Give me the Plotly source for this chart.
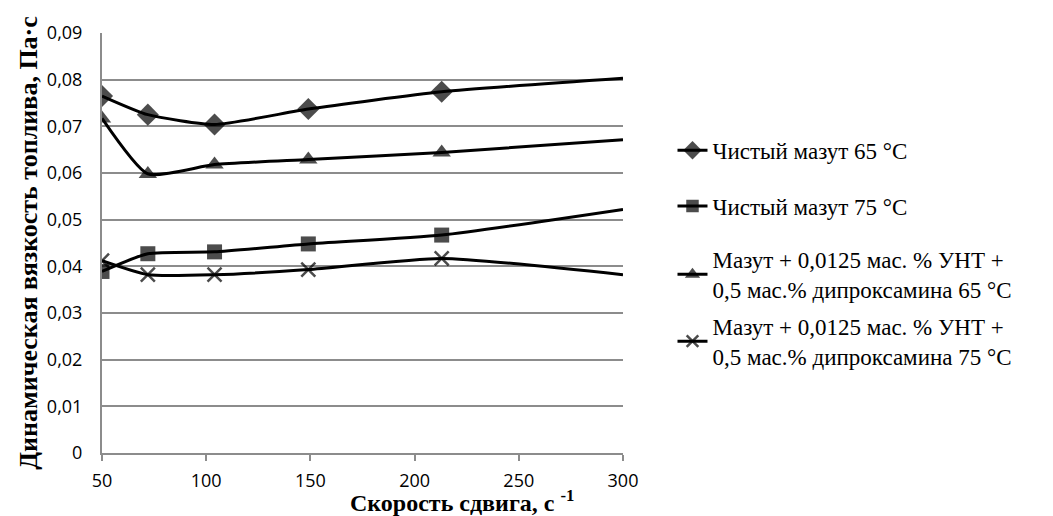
import plotly.graph_objects as go

shear_rate = [50, 72, 104, 149, 213, 300]
visc_65 = [0.0765, 0.0725, 0.0704, 0.0737, 0.0774, 0.0803]
visc_75 = [0.0389, 0.0427, 0.0431, 0.0448, 0.0467, 0.0522]
visc_cnt_65 = [0.0717, 0.0598, 0.0618, 0.0629, 0.0644, 0.0671]
visc_cnt_75 = [0.0412, 0.0382, 0.0382, 0.0393, 0.0417, 0.0382]

names = [
    "Чистый мазут 65 °C",
    "Чистый мазут 75 °C",
    "Мазут + 0,0125 мас. % УНТ +<br>0,5 мас.% дипроксамина 65 °C",
    "Мазут + 0,0125 мас. % УНТ +<br>0,5 мас.% дипроксамина 75 °C",
]
series = [visc_65, visc_75, visc_cnt_65, visc_cnt_75]
symbols = ["diamond", "square", "triangle-up", "x-thin"]
sizes = [17, 15, 16, 14]
legend_ids = ["legend", "legend", "legend2", "legend2"]

y_ticks = [0, 0.01, 0.02, 0.03, 0.04, 0.05, 0.06, 0.07, 0.08, 0.09]
y_ticktext = ["0", "0,01", "0,02", "0,03", "0,04", "0,05", "0,06", "0,07", "0,08", "0,09"]
x_ticks = [50, 100, 150, 200, 250, 300]

x_title = "<b>Скорость сдвига, с <sup>-1</sup></b>"
y_title = "<b>Динамическая вязкость топлива, Па·с</b>"

SERIF = "Liberation Serif"
SANS = "Open Sans"

fig = go.Figure()
for i, (nm, ys, sym, sz, lg) in enumerate(zip(names, series, symbols, sizes, legend_ids)):
    msizes = [sz] * (len(shear_rate) - 1) + [0]
    fig.add_trace(go.Scatter(
        x=shear_rate, y=ys, name=nm, mode="lines+markers",
        line=dict(color="black", width=3, shape="spline", smoothing=0.55),
        marker=dict(symbol=sym, size=msizes, color="black",
                    line=dict(color="black", width=2.5 if sym == "x-thin" else 0)),
        legendgroup=str(i), legend=lg,
    ))

legend_font = dict(family=SERIF, size=23, color="black")

fig.update_layout(
    width=1053, height=516,
    font=dict(family=SERIF, color="black"),
    plot_bgcolor="white", paper_bgcolor="white",
    margin=dict(l=94, r=438, t=16, b=71),
    separators=",.",
    showlegend=True,
    legend=dict(
        x=1.095, y=0.772, xanchor="left", yanchor="top",
        font=legend_font, tracegroupgap=23, itemwidth=30,
        bgcolor="rgba(0,0,0,0)",
    ),
    legend2=dict(
        x=1.095, y=0.512, xanchor="left", yanchor="top",
        font=legend_font, tracegroupgap=4, itemwidth=30,
        bgcolor="rgba(0,0,0,0)",
    ),
    xaxis=dict(
        range=[50, 300], tickvals=x_ticks, showgrid=False,
        showline=True, linecolor="#8c8c8c", linewidth=2,
        ticks="outside", ticklen=6, tickcolor="#8c8c8c", tickwidth=2,
        ticklabelstandoff=4,
        tickfont=dict(family=SANS, size=18, color="black"),
        zeroline=False,
    ),
    yaxis=dict(
        range=[0, 0.09], tickvals=y_ticks, ticktext=y_ticktext,
        showgrid=True, gridcolor="#8c8c8c", gridwidth=2,
        showline=True, linecolor="#8c8c8c", linewidth=2,
        ticks="", ticklabelstandoff=14,
        tickfont=dict(family=SANS, size=18, color="black"),
        title=dict(text=y_title,
                   font=dict(family=SERIF, size=26, color="black"), standoff=2),
        zeroline=False,
    ),
    annotations=[dict(
        text=x_title, xref="paper", yref="paper", x=0.691, y=-0.114,
        xanchor="center", yanchor="middle", showarrow=False,
        font=dict(family=SERIF, size=24, color="black"),
    )],
)

fig.write_html("out.html")
